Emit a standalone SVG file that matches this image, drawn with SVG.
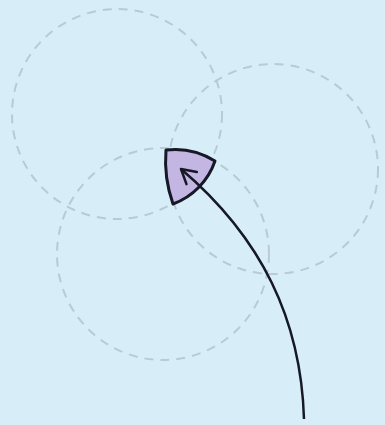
<svg xmlns="http://www.w3.org/2000/svg" width="385" height="425" viewBox="0 0 385 425">
<style>
.guide{fill:none;stroke:#b9cad3;stroke-width:2;stroke-dasharray:9 7}
.tri{fill:#c3b6e2;stroke:#161826;stroke-width:3;stroke-linejoin:round}
.conn{fill:none;stroke:#161826;stroke-width:2.5}
</style>
<defs>
<marker id="arr" viewBox="0 0 22 22" refX="19" refY="11" markerWidth="22" markerHeight="22" markerUnits="userSpaceOnUse" orient="auto">
<path d="M5,3 L19,11 L5,19" fill="none" stroke="#161826" stroke-width="2.5" stroke-linecap="round" stroke-linejoin="round"/>
</marker>
</defs>
<rect width="385" height="425" fill="#d7eef8"/>
<g id="circles">
<circle class="guide" cx="117" cy="114" r="105"/>
<circle class="guide" cx="273" cy="169" r="105"/>
<circle class="guide" cx="163" cy="254" r="106"/>
</g>
<g id="triangle">
<path class="tri" d="M166,150 A75,75 0 0 1 215,161 A70,70 0 0 1 173,204 A130,130 0 0 1 166,150 Z"/>
</g>
<g id="connectors">
<path class="conn" d="M304,419 C301,320 262,238 181,169" marker-end="url(#arr)"/>
</g>
</svg>
